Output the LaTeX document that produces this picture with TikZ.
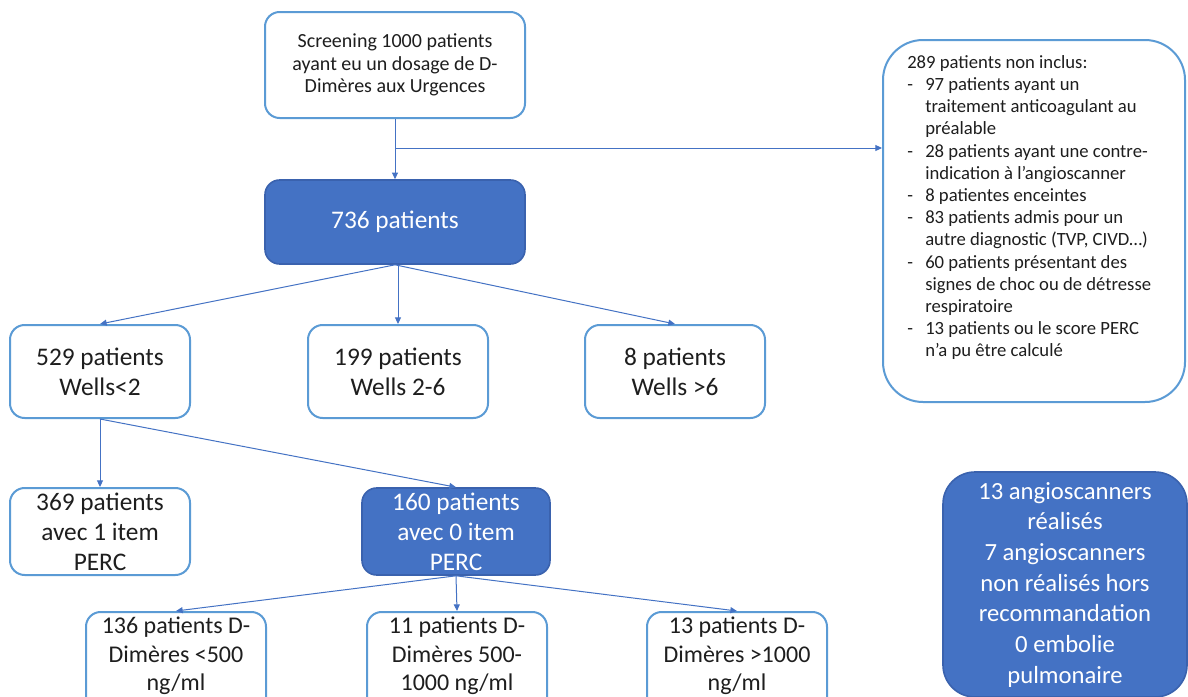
\documentclass[tikz,border=0pt]{standalone}
\usepackage{fontspec}
\setmainfont{Carlito}
\usetikzlibrary{arrows.meta}
\definecolor{bfill}{HTML}{4472C4}
\definecolor{bdark}{HTML}{3A62AE}
\definecolor{bline}{HTML}{5B9BD5}
\definecolor{txt}{HTML}{1E1E1E}
\tikzset{
  wbox/.style={draw=bline, line width=1.5pt, fill=white, rounded corners=11pt, align=center, inner sep=0pt, text=txt},
  bbox/.style={draw=bdark, line width=1.2pt, fill=bfill, rounded corners=11pt, align=center, inner sep=0pt, text=white},
  btxt/.style={align=center, inner sep=0pt, text=txt, font=\fontsize{18pt}{21.5pt}\selectfont},
  conn/.style={draw=bfill, line width=0.75pt, -{Triangle[length=5pt,width=4.5pt]}},
  small/.style={font=\fontsize{15pt}{16.9pt}\selectfont},
  big/.style={font=\fontsize{19pt}{22.5pt}\selectfont},
}
\begin{document}
\begin{tikzpicture}[x=0.75pt,y=-0.75pt]
\useasboundingbox (0,0) rectangle (1188,696);
\clip (0,0) rectangle (1188,696);
\fill[white] (0,0) rectangle (1188,696);

\node[wbox, small, minimum width=195pt, minimum height=79.5pt] (scr) at (395,65)
  {Screening 1000 patients\\ayant eu un dosage de D-\\Dimères aux Urgences};
\node[bbox, big, minimum width=195pt, minimum height=63pt] (p736) at (395,222) {\raisebox{-2pt}{736 patients}};

\node[wbox, draw=bline, line width=1.5pt, rounded corners=30pt, minimum width=226.5pt, minimum height=271.5pt] (excl) at (1034,221) {};
\node[anchor=north west, inner sep=0pt, align=left, text=txt, font=\fontsize{14pt}{16.65pt}\selectfont] (excltxt) at (907,55)
  {289 patients non inclus:\\
  \makebox[13.5pt][l]{-}97 patients ayant un\\
  \hspace*{13.5pt}traitement anticoagulant au\\
  \hspace*{13.5pt}préalable\\
  \makebox[13.5pt][l]{-}28 patients ayant une contre-\\
  \hspace*{13.5pt}indication à l’angioscanner\\
  \makebox[13.5pt][l]{-}8 patientes enceintes\\
  \makebox[13.5pt][l]{-}83 patients admis pour un\\
  \hspace*{13.5pt}autre diagnostic (TVP, CIVD…)\\
  \makebox[13.5pt][l]{-}60 patients présentant des\\
  \hspace*{13.5pt}signes de choc ou de détresse\\
  \hspace*{13.5pt}respiratoire\\
  \makebox[13.5pt][l]{-}13 patients ou le score PERC\\
  \hspace*{13.5pt}n’a pu être calculé};

\node[wbox, big, minimum width=135pt, minimum height=69.75pt] (p529) at (100,371.5) {529 patients\\Wells<2};
\node[wbox, big, minimum width=135pt, minimum height=69.75pt] (p199) at (398,371.5) {199 patients\\Wells 2-6};
\node[wbox, big, minimum width=135pt, minimum height=69.75pt] (p8) at (675,371.5) {8 patients\\Wells >6};

\node[wbox, big, minimum width=135pt, minimum height=65.25pt] (p369) at (100,531.5) {369 patients\\avec 1 item\\PERC};
\node[bbox, big, minimum width=141pt, minimum height=65.25pt] (p160) at (456,531.5) {160 patients\\avec 0 item\\PERC};

\node[wbox, minimum width=135pt, minimum height=75pt] (p136) at (176,662) {};
\node[wbox, minimum width=135pt, minimum height=75pt] (p11) at (457,662) {};
\node[wbox, minimum width=135pt, minimum height=75pt] (p13) at (737,662) {};
\node[btxt] (p136t) at (176,656) {136 patients D-\\Dimères <500\\ng/ml};
\node[btxt] (p11t) at (457,656) {11 patients D-\\Dimères 500-\\1000 ng/ml};
\node[btxt] (p13t) at (737,656) {13 patients D-\\Dimères >1000\\ng/ml};

\node[bbox, font=\fontsize{18.5pt}{23pt}\selectfont, rounded corners=24pt, minimum width=183pt, minimum height=168.75pt] (res) at (1065,584.5)
  {13 angioscanners\\réalisés\\7 angioscanners\\non réalisés hors\\recommandation\\0 embolie\\pulmonaire};

\coordinate (br) at (395,148);
\draw[conn] (scr.south) -- (p736.north);
\draw[conn] (br) -- (br -| excl.west);
\draw[conn] (p736.south) -- (p529.north);
\draw[conn] (p736.south -| p199.north) -- (p199.north);
\draw[conn] (p736.south) -- (p8.north);
\draw[conn] (p529.south) -- (p369.north);
\draw[conn] (p529.south) -- (p160.north);
\draw[conn] (p160.south) -- (p136.north);
\draw[conn] (p160.south) -- (p11.north);
\draw[conn] (p160.south) -- (p13.north);
\end{tikzpicture}
\end{document}
